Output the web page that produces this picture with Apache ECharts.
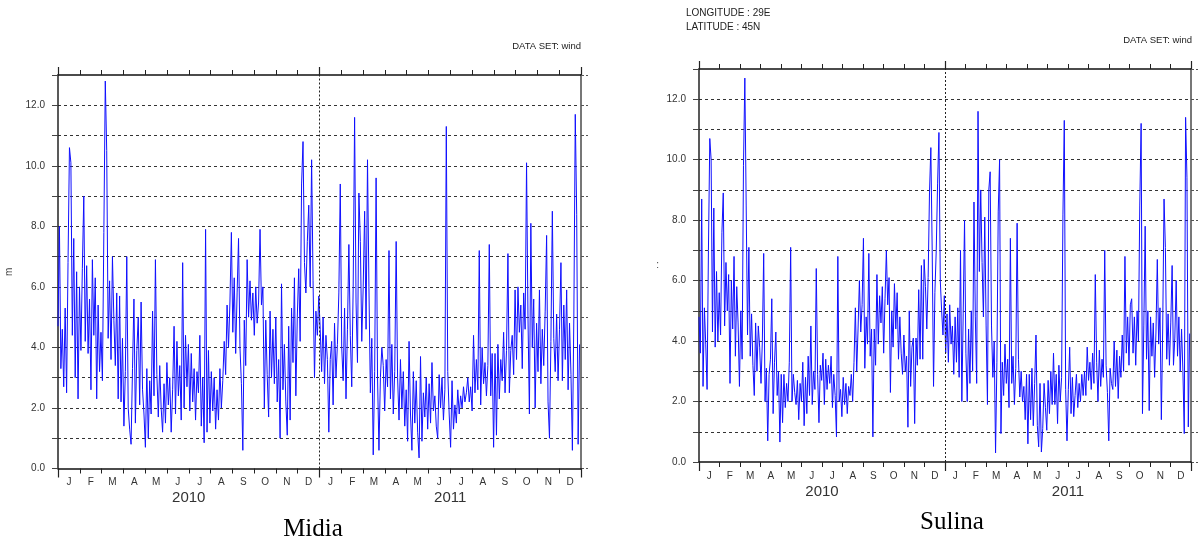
<!DOCTYPE html>
<html>
<head>
<meta charset="utf-8">
<script src="https://cdn.jsdelivr.net/npm/echarts@6/dist/echarts.min.js"></script>
<style>
html,body{margin:0;padding:0;background:#fff;}
#chart{width:1199px;height:546px;}
</style>
</head>
<body>
<div id="chart"></div>
<script>
// ---- data (one value every 2 days, 1 Jan 2010 .. 31 Dec 2011) ----
const stepDays = 2;
const totalDays = 730;
const monthLabels = ['J','F','M','A','M','J','J','A','S','O','N','D','J','F','M','A','M','J','J','A','S','O','N','D'];
const yearLabels = ['2010','2011'];
const yMax = 13;

const midiaWind = [
  4.7, 8.0, 3.3, 4.6, 2.7, 5.3, 2.5, 6.8, 10.6, 10.1, 4.4, 7.6, 3.0, 6.5, 2.3,
  6.0, 3.9, 6.6, 9.0, 4.2, 6.7, 3.8, 5.6, 2.6, 6.9, 4.4, 6.3, 2.3, 5.4, 3.2,
  4.5, 2.9, 7.8, 12.8, 10.5, 4.3, 6.2, 3.6, 7.0, 4.9, 3.4, 5.8, 2.3, 5.7, 2.2,
  4.3, 1.4, 3.2, 7.0, 2.0, 1.3, 0.8, 3.3, 5.6, 1.5, 3.9, 5.0, 2.1, 5.5, 2.6,
  1.8, 0.7, 3.3, 1.0, 2.9, 1.8, 5.2, 2.4, 6.9, 3.1, 1.7, 3.4, 2.0, 1.2, 2.8,
  1.5, 3.5, 2.1, 3.0, 1.2, 2.6, 4.7, 1.8, 4.2, 2.4, 3.4, 1.6, 6.8, 2.0, 4.4,
  2.7, 4.1, 1.9, 3.8, 2.2, 3.3, 1.6, 3.2, 2.5, 4.4, 1.4, 3.0, 0.85, 7.9, 1.2,
  3.9, 1.5, 3.2, 1.9, 3.0, 1.3, 2.6, 1.6, 3.3, 2.0, 2.9, 4.2, 3.1, 5.4, 4.0,
  5.5, 7.8, 4.5, 6.3, 3.8, 5.8, 7.6, 4.0, 2.8, 0.6, 4.9, 3.4, 6.9, 5.0, 6.2,
  4.9, 5.8, 4.4, 6.0, 4.8, 5.5, 7.9, 5.4, 6.0, 2.0, 4.9, 3.1, 1.7, 5.2, 3.0,
  4.6, 2.8, 5.0, 2.2, 3.6, 1.0, 6.1, 2.6, 4.1, 2.2, 1.1, 4.7, 1.6, 5.3, 3.5,
  6.3, 2.4, 5.0, 6.6, 4.2, 9.4, 10.8, 6.8, 5.8, 7.5, 8.7, 6.0, 10.2, 6.2, 3.0,
  5.2, 4.4, 5.7, 4.6, 3.2, 5.0, 2.8, 4.4, 3.6, 1.2, 3.6, 4.2, 2.1, 4.8, 3.0,
  4.1, 5.8, 9.4, 4.0, 2.9, 5.3, 2.3, 4.6, 7.4, 4.4, 2.7, 6.0, 11.6, 5.5, 3.5,
  9.1, 7.5, 4.2, 6.0, 8.5, 4.6, 10.2, 6.0, 2.5, 4.3, 0.45, 3.2, 9.6, 3.0, 0.6,
  3.0, 4.0, 3.4, 1.9, 3.6, 2.7, 7.2, 2.3, 4.1, 1.8, 3.2, 7.5, 3.0, 1.6, 3.6,
  2.0, 3.2, 1.4, 2.6, 0.9, 4.2, 1.8, 0.6, 3.2, 1.5, 2.9, 1.2, 0.35, 3.7, 0.9,
  2.5, 1.7, 3.0, 1.3, 2.8, 1.5, 3.5, 1.9, 2.4, 1.4, 1.0, 3.1, 2.0, 3.0, 1.6,
  2.6, 11.3, 3.2, 1.8, 0.7, 2.9, 1.3, 2.1, 1.5, 2.6, 1.8, 2.4, 2.0, 2.7, 2.2,
  2.5, 3.0, 2.2, 2.7, 1.9, 4.4, 2.5, 3.6, 2.6, 7.2, 2.1, 4.0, 2.8, 3.5, 2.4,
  3.4, 7.4, 2.4, 3.8, 0.7, 3.8, 1.1, 4.1, 2.3, 3.6, 2.9, 4.5, 2.5, 3.9, 7.1,
  2.5, 3.9, 4.4, 3.1, 5.9, 3.6, 6.0, 4.5, 5.4, 3.3, 5.8, 4.6, 10.1, 5.0, 1.8,
  8.1, 4.0, 5.6, 2.0, 4.8, 3.2, 5.9, 2.8, 4.6, 3.4, 5.2, 7.7, 2.2, 1.0, 4.2,
  8.5, 4.3, 3.2, 5.1, 2.9, 4.6, 6.8, 2.9, 5.4, 3.6, 5.9, 2.6, 4.8, 3.1, 0.6,
  5.0, 11.7, 8.4, 0.8, 4.1
];

const sulinaWind = [
  4.8, 3.6, 8.7, 2.5, 5.1, 3.9, 2.4, 7.0, 10.7, 10.0, 4.3, 8.4, 3.8, 6.3, 4.0,
  5.6, 4.2, 7.6, 8.9, 4.5, 6.6, 5.0, 6.2, 2.6, 6.0, 4.4, 6.8, 3.5, 5.8, 4.6,
  2.5, 5.0, 3.4, 9.8, 12.7, 8.5, 4.2, 7.1, 3.5, 4.9, 3.2, 2.2, 4.6, 3.0, 4.5,
  3.8, 2.6, 4.0, 6.9, 2.0, 3.1, 0.7, 2.9, 3.4, 5.4, 1.6, 3.3, 4.3, 2.2, 3.0,
  0.66, 2.9, 1.3, 2.9, 1.8, 2.6, 2.0, 3.3, 7.1, 2.0, 2.9, 2.3, 1.9, 2.7, 1.4,
  2.6, 2.0, 3.3, 1.2, 2.8, 1.6, 3.5, 2.2, 4.5, 1.9, 3.0, 2.4, 6.4, 2.9, 1.3,
  3.2, 2.7, 3.6, 1.9, 3.4, 2.4, 3.2, 2.6, 3.5, 1.8, 2.9, 2.2, 0.83, 6.8, 2.0,
  2.4, 1.5, 2.8, 1.9, 2.6, 1.6, 2.5, 2.2, 2.9, 2.0, 3.3, 5.1, 3.0, 4.4, 6.0,
  4.3, 5.2, 7.4, 3.1, 4.8, 3.9, 6.9, 3.5, 4.4, 0.83, 4.4, 3.2, 6.2, 3.9, 5.5,
  4.6, 5.8, 3.6, 5.4, 7.0, 5.2, 6.1, 2.3, 5.0, 3.8, 5.9, 4.4, 5.6, 3.4, 4.8,
  3.6, 2.9, 4.2, 3.0, 3.5, 1.15, 5.0, 2.5, 3.8, 4.1, 1.27, 4.1, 3.2, 5.7, 3.4,
  6.5, 3.4, 6.7, 5.8, 4.4, 6.1, 8.9, 10.4, 7.0, 2.5, 5.6, 7.0, 9.2, 10.9, 6.0,
  5.0, 4.2, 5.5, 3.6, 4.9, 3.3, 5.2, 3.9, 4.5, 2.9, 4.8, 3.3, 5.1, 2.8, 7.0,
  2.0, 4.9, 8.0, 3.6, 2.0, 4.4, 2.6, 5.0, 3.0, 8.6, 4.8, 2.6, 11.6, 6.3, 9.0,
  6.6, 4.8, 8.1, 4.5, 1.9, 9.0, 9.6, 4.5, 2.8, 4.0, 0.3, 3.3, 8.3, 10.0, 0.94,
  3.3, 2.2, 3.9, 2.6, 3.4, 1.8, 7.4, 2.6, 3.5, 1.9, 3.1, 7.9, 3.4, 2.15, 3.0,
  2.0, 2.5, 1.4, 2.9, 0.6, 2.9, 1.4, 3.1, 1.2, 2.6, 4.2, 1.2, 0.5, 2.6, 0.33,
  1.1, 2.6, 1.8, 1.05, 2.7, 1.6, 3.0, 1.9, 3.6, 1.9, 2.9, 1.27, 3.2, 2.0, 2.8,
  8.2, 11.3, 2.4, 0.7, 2.4, 3.8, 1.6, 2.8, 1.5, 2.2, 2.9, 1.8, 2.6, 2.0, 2.9,
  2.2, 3.0, 2.2, 3.8, 2.7, 3.3, 2.4, 3.6, 2.6, 6.2, 3.3, 2.0, 3.7, 2.5, 3.4,
  2.8, 7.0, 3.2, 2.3, 0.7, 3.1, 2.6, 2.4, 4.0, 2.5, 3.7, 2.1, 3.5, 2.8, 4.2,
  3.0, 6.8, 3.6, 4.8, 3.2, 5.2, 5.4, 3.6, 4.8, 3.2, 5.0, 4.0, 8.5, 11.2, 1.6,
  4.5, 7.8, 3.4, 5.0, 1.7, 4.8, 3.5, 4.6, 2.8, 4.3, 6.7, 3.9, 5.1, 1.4, 4.4,
  8.7, 7.1, 3.4, 4.9, 3.2, 4.6, 6.5, 3.2, 4.1, 6.0, 3.5, 4.8, 3.0, 4.4, 3.0,
  0.94, 11.4, 9.4, 1.16, 4.25
];

// ---- chart ----
const chart = echarts.init(document.getElementById('chart'), null, {renderer: 'canvas'});
const labelFont = "'Liberation Sans Narrow', 'Liberation Sans', Arial, sans-serif";
const sansFont = "'Liberation Sans', Arial, sans-serif";

const panels = [
  {name: 'm',  nameGap: 44, nameRotate: 90, grid: {left: 58, top: 75, width: 523, height: 393.5}, data: midiaWind},
  {name: ':',  nameGap: 40, nameRotate: 0,  grid: {left: 699, top: 69, width: 492, height: 393}, data: sulinaWind}
];

const grids = [], xAxes = [], yAxes = [], series = [];
panels.forEach((p, g) => {
  grids.push(Object.assign({containLabel: false}, p.grid));
  // data axis (days)
  xAxes.push({type: 'value', gridIndex: g, min: 0, max: totalDays, show: false});
  // month bands bottom
  xAxes.push({type: 'category', gridIndex: g, position: 'bottom', data: monthLabels, boundaryGap: true,
    axisLine: {show: true, lineStyle: {color: '#111', width: 1.5}},
    axisTick: {show: true, interval: 0, length: 5, lineStyle: {color: '#222'}},
    axisLabel: {show: true, interval: 0, margin: 9, fontSize: 10, color: '#333', fontFamily: sansFont},
    splitLine: {show: false}});
  // month bands top
  xAxes.push({type: 'category', gridIndex: g, position: 'top', data: monthLabels, boundaryGap: true,
    axisLine: {show: true, lineStyle: {color: '#111', width: 1.5}},
    axisTick: {show: true, interval: 0, length: 5, lineStyle: {color: '#222'}},
    axisLabel: {show: false}, splitLine: {show: false}});
  // years bottom
  xAxes.push({type: 'category', gridIndex: g, position: 'bottom', data: yearLabels, boundaryGap: true,
    axisLine: {show: false},
    axisTick: {show: true, interval: 0, length: 9, lineStyle: {color: '#222', width: 1.2}},
    axisLabel: {show: true, interval: 0, margin: 22, fontSize: 15, color: '#333', fontFamily: sansFont},
    splitLine: {show: false}});
  // years top
  xAxes.push({type: 'category', gridIndex: g, position: 'top', data: yearLabels, boundaryGap: true,
    axisLine: {show: false},
    axisTick: {show: true, interval: 0, length: 8, lineStyle: {color: '#222', width: 1.2}},
    axisLabel: {show: false}, splitLine: {show: false}});

  yAxes.push({type: 'value', gridIndex: g, position: 'left', min: 0, max: yMax, interval: 1,
    name: p.name, nameLocation: 'middle', nameGap: p.nameGap, nameRotate: p.nameRotate,
    nameTextStyle: {fontSize: 10, color: '#444', fontFamily: sansFont},
    axisLine: {show: true, lineStyle: {color: '#222', width: 1.5}},
    axisTick: {show: true, length: 6, lineStyle: {color: '#444'}},
    axisLabel: {show: true, margin: 13, fontSize: 10, color: '#333', fontFamily: labelFont,
      formatter: v => (v % 2 === 0 ? v.toFixed(1) : '')},
    splitLine: {show: true, showMinLine: false, showMaxLine: false,
      lineStyle: {color: '#333', type: [3, 3], width: 1}}});
  yAxes.push({type: 'value', gridIndex: g, position: 'right', min: 0, max: yMax, interval: 1,
    axisLine: {show: true, lineStyle: {color: '#777', width: 2}},
    axisTick: {show: true, length: 7, lineStyle: {color: '#555', type: [3, 2]}},
    axisLabel: {show: false}, splitLine: {show: false}});

  series.push({type: 'line', xAxisIndex: g * 5, yAxisIndex: g * 2,
    data: p.data.map((v, i) => [i * stepDays, v]),
    showSymbol: false, symbol: 'none', smooth: false,
    lineStyle: {color: '#1010ff', width: 1},
    animation: false, silent: true,
    markLine: {silent: true, symbol: ['none', 'none'], label: {show: false},
      lineStyle: {color: '#222', type: [2, 2], width: 1},
      data: [{xAxis: totalDays / 2}]}});
});

const txt = (x, y, text, size, align, family, color) => ({
  type: 'text', x: x, y: y, silent: true,
  style: {text: text, fontSize: size, fontFamily: family || sansFont, fill: color || '#222',
    textAlign: align, align: align, textVerticalAlign: 'middle', verticalAlign: 'middle'}
});

chart.setOption({
  backgroundColor: '#fff',
  animation: false,
  grid: grids,
  xAxis: xAxes,
  yAxis: yAxes,
  series: series,
  graphic: [
    txt(581, 46, 'DATA SET: wind', 9.5, 'right'),
    txt(1192, 40, 'DATA SET: wind', 9.5, 'right'),
    txt(686, 13, 'LONGITUDE : 29E', 10, 'left'),
    txt(686, 27, 'LATITUDE : 45N', 10, 'left'),
    txt(313, 529, 'Midia', 25, 'center', "'Liberation Serif', 'Times New Roman', serif", '#000'),
    txt(952, 522, 'Sulina', 25, 'center', "'Liberation Serif', 'Times New Roman', serif", '#000')
  ]
});
</script>
</body>
</html>
